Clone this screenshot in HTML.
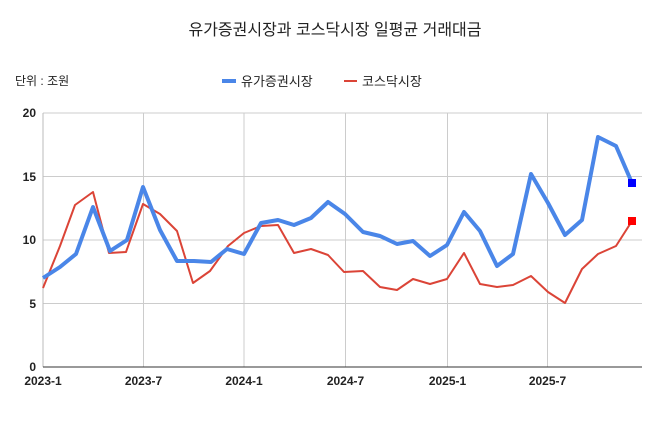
<!DOCTYPE html>
<html><head><meta charset="utf-8"><style>
body{margin:0;background:#fff;}
svg text{font-family:"Liberation Sans","Noto Sans CJK KR",sans-serif;}
</style></head><body>
<svg width="670" height="432" viewBox="0 0 670 432" xmlns="http://www.w3.org/2000/svg">
<rect width="670" height="432" fill="#fff"/>
<text x="335" y="35" font-size="16" text-anchor="middle" fill="#222">유가증권시장과 코스닥시장 일평균 거래대금</text>
<text x="15" y="85" font-size="12" fill="#222">단위 : 조원</text>
<line x1="222" y1="81" x2="236" y2="81" stroke="#4a86e8" stroke-width="4"/>
<text x="241" y="86" font-size="13" fill="#222">유가증권시장</text>
<line x1="344" y1="81" x2="357" y2="81" stroke="#db4437" stroke-width="2"/>
<text x="362" y="86" font-size="13" fill="#222">코스닥시장</text>
<g stroke="#ccc" stroke-width="1">
<line x1="43" y1="113" x2="642" y2="113"/>
<line x1="43" y1="176.5" x2="642" y2="176.5"/>
<line x1="43" y1="240" x2="642" y2="240"/>
<line x1="43" y1="303.5" x2="642" y2="303.5"/>
<line x1="143.5" y1="113" x2="143.5" y2="367"/>
<line x1="244" y1="113" x2="244" y2="367"/>
<line x1="345.5" y1="113" x2="345.5" y2="367"/>
<line x1="447.5" y1="113" x2="447.5" y2="367"/>
<line x1="547.5" y1="113" x2="547.5" y2="367"/>
</g>
<line x1="43" y1="113" x2="43" y2="367" stroke="#bbb" stroke-width="1"/>
<line x1="43" y1="367" x2="642" y2="367" stroke="#333" stroke-width="1"/>
<g font-size="12" font-weight="bold" fill="#222" text-anchor="end">
<text x="36" y="117">20</text><text x="36" y="181">15</text><text x="36" y="244">10</text><text x="36" y="308">5</text><text x="36" y="371">0</text>
</g>
<g font-size="12" font-weight="bold" fill="#222" text-anchor="middle">
<text x="43" y="385">2023-1</text><text x="143.5" y="385">2023-7</text><text x="244" y="385">2024-1</text><text x="345.5" y="385">2024-7</text><text x="447.5" y="385">2025-1</text><text x="547.5" y="385">2025-7</text>
</g>
<polyline fill="none" stroke="#db4437" stroke-width="2" stroke-linejoin="round" points="43,288 60,246 75,205 93,192 109,253 126,252 143,204 160,214 177,231 193,283 210,271 228,246 244,233 261,226 278,225 294,253 311,249 328,255 344,272 363,271 380,287 397,290 413,279 430,284 447,279 464,253 480,284 497,287 513,285 531,276 548,292 565,303 582,269 598,254 616,246 632,221"/>
<polyline fill="none" stroke="#4a86e8" stroke-width="4" stroke-linejoin="round" points="43,278 60,267 76,254 93,207 110,251 127,240 143,187 160,230 177,261 194,261 211,262 227,249 244,254 261,223 278,220 294,225 311,218 328,202 345,214 363,232 380,236 397,244 413,241 430,256 447,245 464,212 480,231 497,266 513,254 531,174 548,203 565,235 582,220 598,137 616,146 632,183"/>
<rect x="628" y="179" width="8" height="8" fill="#0000ff"/>
<rect x="628" y="217" width="8" height="8" fill="#ff0000"/>
</svg>
</body></html>
